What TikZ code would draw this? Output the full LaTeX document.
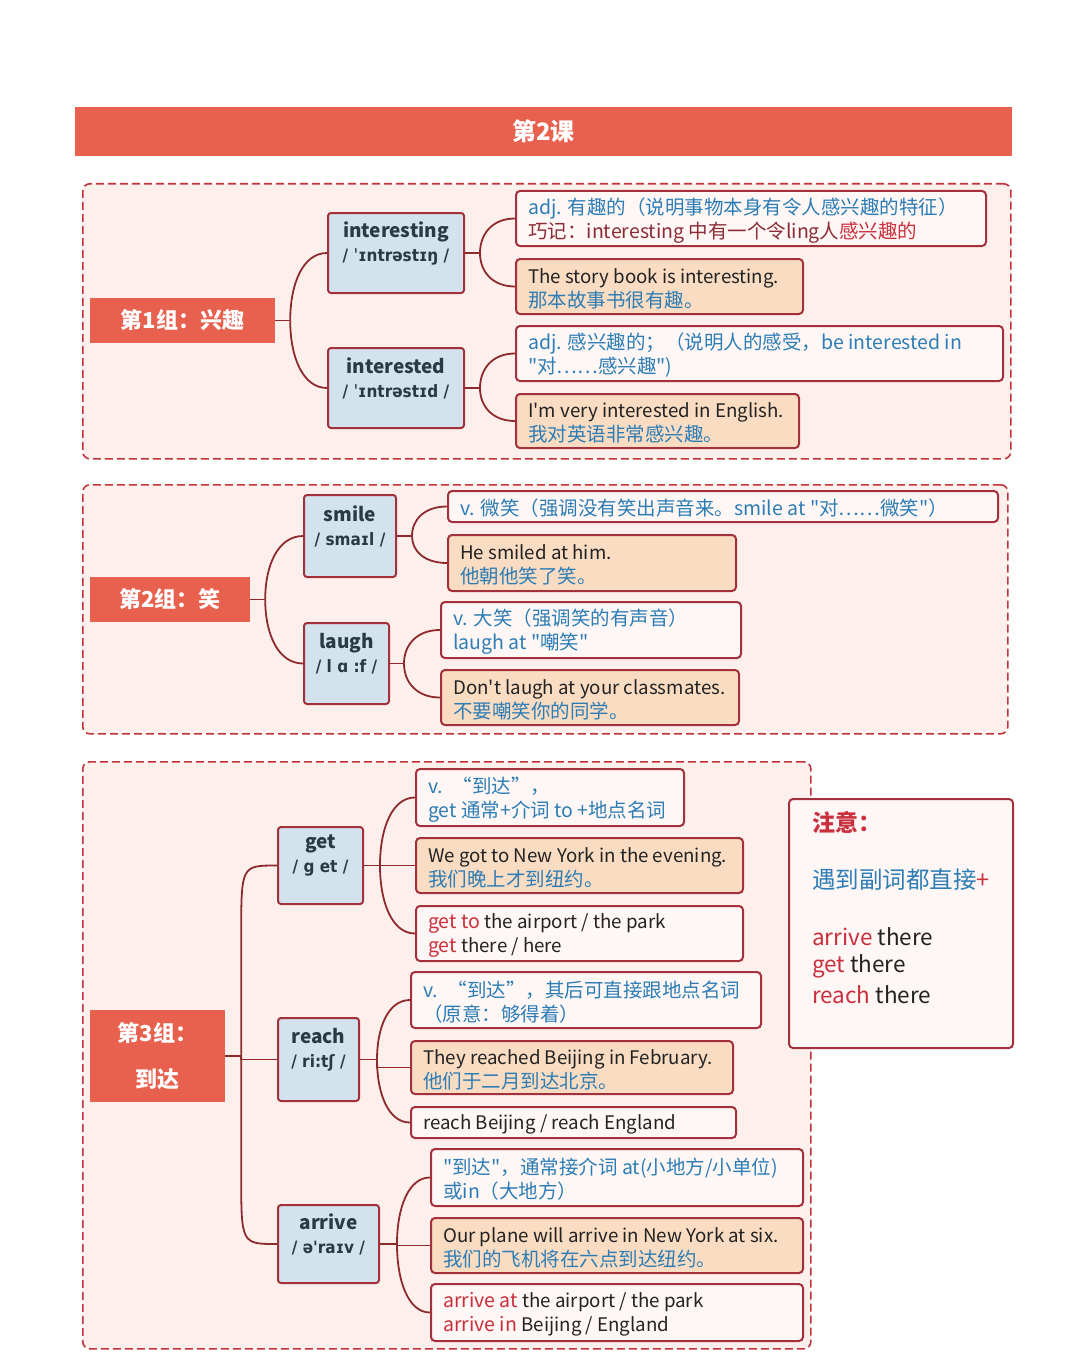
\documentclass[tikz,border=0pt]{standalone}
\usepackage{fontspec}
\setmainfont{Noto Sans CJK SC}[Ligatures=TeXOff]
\newfontfamily\ipafont{DejaVu Sans}[FakeStretch=0.9]
\usetikzlibrary{calc}
\definecolor{headred}{HTML}{E8604E}
\definecolor{labred}{HTML}{E8604E}
\definecolor{pinkbg}{HTML}{FDF0EC}
\definecolor{dline}{HTML}{C2343C}
\definecolor{bline}{HTML}{A3303A}
\definecolor{cline}{HTML}{8E2A2E}
\definecolor{wordblue}{HTML}{D2E3EE}
\definecolor{boxorange}{HTML}{FADCC3}
\definecolor{boxwhite}{HTML}{FFF7F5}
\definecolor{blu}{HTML}{2C7DB5}
\definecolor{redt}{HTML}{C92F3C}
\definecolor{maroont}{HTML}{8A2B36}
\definecolor{blk}{HTML}{222222}
\definecolor{wordtxt}{HTML}{283A44}
\newcommand\bodyfont{\fontsize{19.5}{24}\selectfont}
\newcommand\entxt[1]{{\fontsize{18.7}{24}\selectfont\color{blk}#1}}
\newcommand\txbox[7]{%
  \pgfmathsetmacro\bxw{#5-#3}%
  \pgfmathsetmacro\bxh{#6-#4}%
  \node[#2, minimum width=\bxw pt, minimum height=\bxh pt, anchor=north west] (#1) at (#3,#4) {};%
  \node[txt, anchor=west] (#1t) at ([xshift=13pt,yshift=-2pt]#1.west) {#7};%
}
\newcommand\wordbox[7]{%
  \pgfmathsetmacro\bxw{#4-#2}%
  \pgfmathsetmacro\bxh{#5-#3}%
  \node[word, minimum width=\bxw pt, minimum height=\bxh pt, anchor=north west] (#1) at (#2,#3) {};%
  \node[wtxt] (#1t) at ([yshift=10pt]#1.center) {#6\\{\ipafont\fontsize{17}{24}\selectfont #7}};%
}
% curve from junction #1 to the west side of node #2; straight part then a bend of size #3
\newcommand\brU[3]{\draw[conn] (#1) -- ($(#1|-#2.west)+(0,#3)$) .. controls (#1|-#2.west) .. (#2.west);}
\newcommand\brD[3]{\draw[conn] (#1) -- ($(#1|-#2.west)+(0,-#3)$) .. controls (#1|-#2.west) .. (#2.west);}
% smooth bend over the whole height
\newcommand\br[2]{\draw[conn] (#1) .. controls ($(#1)!0.55!(#1|-#2.west)$) and ($(#1|-#2.west)!0.35!(#2.west)$) .. (#2.west);}
\begin{document}
\begin{tikzpicture}[x=1pt,y=-1pt,
  conn/.style={draw=cline, line width=1.8pt},
  dbox/.style={draw=dline, dash pattern=on 8pt off 4pt, line width=1.6pt, fill=pinkbg, rounded corners=7pt, inner sep=0pt},
  head/.style={fill=headred, text=white, font=\fontsize{24}{28}\selectfont\bfseries, inner sep=0pt},
  lab/.style={fill=labred, text=white, font=\fontsize{22}{46}\selectfont\bfseries, inner sep=0pt, align=center},
  word/.style={draw=bline, line width=2pt, fill=wordblue, rounded corners=3pt, inner sep=0pt},
  wtxt/.style={align=center, inner sep=0pt, text=wordtxt, font=\fontsize{19}{24}\selectfont\bfseries},
  wbox/.style={draw=bline, line width=2pt, fill=boxwhite, rounded corners=4pt, inner sep=0pt},
  obox/.style={wbox, fill=boxorange},
  txt/.style={align=left, inner sep=0pt, font=\bodyfont, text=blu},
  ntxt/.style={anchor=west, inner sep=0pt, font=\fontsize{22.5}{26}\selectfont}
]
\fill[white] (0,0) rectangle (1080,1367);
\useasboundingbox (0,0) rectangle (1080,1367);

% header
\node[head, minimum width=937pt, minimum height=49pt] (hd) at (543.5,131.5) {第2课};

% ---------- group 1 ----------
\node[dbox, minimum width=928pt, minimum height=275pt, anchor=north west] (d1) at (82,183) {};
\node[lab, minimum width=185pt, minimum height=45pt] (L1) at (182.5,320.5) {第1组：兴趣};
\wordbox{W1}{327}{212}{463}{292}{interesting}{/ ˈɪntrəstɪŋ /}
\wordbox{W2}{327}{347}{463}{427}{interested}{/ ˈɪntrəstɪd /}
\txbox{B11}{wbox}{515}{190}{985}{245}{adj. 有趣的（说明事物本身有令人感兴趣的特征）\\{\color{maroont}巧记：interesting 中有一个令ling人}{\color{redt}感兴趣的}}
\txbox{B12}{obox}{515}{258}{802}{313}{\entxt{The story book is interesting.}\\那本故事书很有趣。}
\txbox{B13}{wbox}{515}{325}{1002}{380}{adj. 感兴趣的；（说明人的感受，be interested in\\"对……感兴趣")}
\txbox{B14}{obox}{515}{393}{798}{447}{\entxt{I'm very interested in English.}\\我对英语非常感兴趣。}

\coordinate (j1) at ([xshift=15pt]L1.east);
\draw[conn] (L1.east) -- (j1);
\br{j1}{W1}
\br{j1}{W2}
\coordinate (k1) at ([xshift=15pt]W1.east);
\draw[conn] (W1.east) -- (k1);
\br{k1}{B11}
\br{k1}{B12}
\coordinate (k2) at ([xshift=15pt]W2.east);
\draw[conn] (W2.east) -- (k2);
\br{k2}{B13}
\br{k2}{B14}

% ---------- group 2 ----------
\node[dbox, minimum width=925pt, minimum height=249pt, anchor=north west] (d2) at (82,484) {};
\node[lab, minimum width=160pt, minimum height=45pt] (L2) at (170,599.5) {第2组：笑};
\wordbox{W3}{303}{494}{395}{576}{smile}{/ smaɪl /}
\wordbox{W4}{303}{622}{388}{703}{laugh}{/ l ɑ :f /}
\txbox{B21}{wbox}{447}{490}{997}{521}{v. 微笑（强调没有笑出声音来。smile at "对……微笑"）}
\txbox{B22}{obox}{447}{534}{735}{590}{\entxt{He smiled at him.}\\他朝他笑了笑。}
\txbox{B23}{wbox}{440}{601}{740}{657}{v. 大笑（强调笑的有声音）\\laugh at "嘲笑"}
\txbox{B24}{obox}{440}{669}{738}{724}{\entxt{Don't laugh at your classmates.}\\不要嘲笑你的同学。}

\coordinate (j2) at ([xshift=15pt]L2.east);
\draw[conn] (L2.east) -- (j2);
\br{j2}{W3}
\br{j2}{W4}
\coordinate (k3) at ([xshift=15pt]W3.east);
\draw[conn] (W3.east) -- (k3);
\br{k3}{B21}
\br{k3}{B22}
\coordinate (k4) at ([xshift=14pt]W4.east);
\draw[conn] (W4.east) -- (k4);
\br{k4}{B23}
\br{k4}{B24}

% ---------- group 3 ----------
\node[dbox, minimum width=728pt, minimum height=587pt, anchor=north west] (d3) at (82,761) {};
\node[lab, minimum width=135pt, minimum height=92pt] (L3) at (157.5,1056) {第3组：\\到达};
\wordbox{W5}{277}{826}{362}{903}{get}{/ g et /}
\wordbox{W6}{277}{1017}{358}{1100}{reach}{/ ri:tʃ /}
\wordbox{W7}{277}{1204}{378}{1282}{arrive}{/ ə'raɪv /}

\txbox{G1}{wbox}{415}{768}{683}{825}{v.\enspace “到达”，\\get 通常+介词 to +地点名词}
\txbox{G2}{obox}{415}{837}{742}{892}{\entxt{We got to New York in the evening.}\\我们晚上才到纽约。}
\txbox{G3}{wbox}{415}{905}{742}{960}{{\color{redt}get to} \entxt{the airport / the park}\\{\color{redt}get} \entxt{there / here}}

\txbox{R1}{wbox}{410}{971}{760}{1027}{v.\enspace “到达”，其后可直接跟地点名词\\ （原意：够得着）}
\txbox{R2}{obox}{410}{1040}{732}{1093}{\entxt{They reached Beijing in February.}\\他们于二月到达北京。}
\txbox{R3}{wbox}{410}{1106}{735}{1137}{\entxt{reach Beijing / reach England}}

\txbox{A1}{wbox}{430}{1148}{802}{1205}{"到达"，通常接介词 at(小地方/小单位)\\或in（大地方）}
\txbox{A2}{obox}{430}{1217}{802}{1272}{\entxt{Our plane will arrive in New York at six.}\\我们的飞机将在六点到达纽约。}
\txbox{A3}{wbox}{430}{1283}{802}{1340}{{\color{redt}arrive at} \entxt{the airport / the park}\\{\color{redt}arrive in} \entxt{Beijing / England}}

\coordinate (j3) at ([xshift=16pt]L3.east);
\draw[conn] (L3.east) -- (j3);
\brU{j3}{W5}{70}
\draw[conn] (j3) -- (j3|-W6.west) -- (W6.west);
\brD{j3}{W7}{70}
\coordinate (k5) at ([xshift=16pt]W5.east);
\draw[conn] (W5.east) -- (k5);
\br{k5}{G1}
\draw[conn] (k5) -- (G2.west);
\br{k5}{G3}
\coordinate (k6) at ([xshift=17pt]W6.east);
\draw[conn] (W6.east) -- (k6);
\br{k6}{R1}
\draw[conn] (k6) -- (k6|-R2.west) -- (R2.west);
\br{k6}{R3}
\coordinate (k7) at ([xshift=17pt]W7.east);
\draw[conn] (W7.east) -- (k7);
\br{k7}{A1}
\draw[conn] (k7) -- (k7|-A2.west) -- (A2.west);
\br{k7}{A3}

% note box
\node[wbox, minimum width=224pt, minimum height=249pt, anchor=north west] (N) at (788,798) {};
\node[ntxt, text=redt, font=\fontsize{23}{26}\selectfont\bfseries] (n1) at (812,823) {注意：};
\node[ntxt, text=blu, font=\fontsize{23.5}{26}\selectfont] (n2) at (812,880) {遇到副词都直接{\color{redt}+}};
\node[ntxt, text=blk] (n3) at (812,937) {{\color{redt}arrive} there};
\node[ntxt, text=blk] (n4) at (812,966) {{\color{redt}get} there};
\node[ntxt, text=blk] (n5) at (812,995) {{\color{redt}reach} there};
\end{tikzpicture}
\end{document}
